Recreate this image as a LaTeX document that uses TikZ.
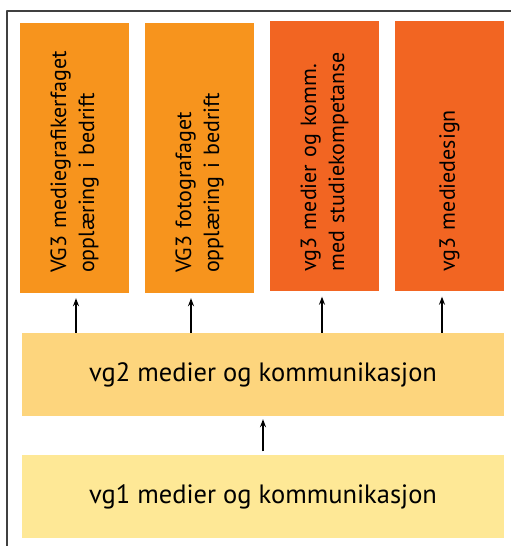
\documentclass[tikz,border=0pt]{standalone}
\usepackage{fontspec}
\setmainfont{PT Sans}
\usetikzlibrary{arrows.meta}
\definecolor{lysorange}{RGB}{247,148,29}
\definecolor{mørkorange}{RGB}{242,101,34}
\definecolor{vgto}{RGB}{253,213,125}
\definecolor{vgen}{RGB}{254,232,150}
\tikzset{
  vgtre/.style={rotate=90,minimum width=270pt,minimum height=109pt,text width=230pt,align=left,inner sep=0pt,font=\fontsize{22}{28}\selectfont},
  vgboks/.style={minimum width=482pt,minimum height=83pt,inner sep=0pt,font=\fontsize{26.5}{30}\selectfont},
  pil/.style={-{Stealth[length=8pt,width=6pt]},line width=1.3pt}
}
\begin{document}
\begin{tikzpicture}[x=1pt,y=1pt,line join=round]
		\useasboundingbox (0,0) rectangle (511,546);
		\draw[line width=1.6pt,black!75] (7,0)--(7,535)--(511,535);
		\node[vgtre,fill=lysorange] (mgf) at (74.5,388) {VG3 mediegrafikerfaget\\opplæring i bedrift};
		\node[vgtre,fill=lysorange] (foto) at (199.5,388) {VG3 fotografaget\\opplæring i bedrift};
		\node[vgtre,fill=mørkorange] (stud) at (324.5,389.5) {vg3 medier og komm.\\med studiekompetanse};
		\node[vgtre,fill=mørkorange] (design) at (449.5,389.5) {vg3 mediedesign};
		\node[vgboks,fill=vgto] (vg2) at (263,171.5) {vg2 medier og kommunikasjon};
		\node[vgboks,fill=vgen] (vg1) at (263,49) {vg1 medier og kommunikasjon};
		\draw[pil,shorten >=5pt] ([xshift=1.5pt]vg2.north -| mgf.west)--([xshift=1.5pt]mgf.west);
		\draw[pil,shorten >=5pt] ([xshift=-8.5pt]vg2.north -| foto.west)--([xshift=-8.5pt]foto.west);
		\draw[pil,shorten >=5pt] ([xshift=-2.5pt]vg2.north -| stud.west)--([xshift=-2.5pt]stud.west);
		\draw[pil,shorten >=5pt] ([xshift=-7.5pt]vg2.north -| design.west)--([xshift=-7.5pt]design.west);
		\draw[pil,shorten <=4pt,shorten >=3pt] (vg1)--(vg2);
\end{tikzpicture}
\end{document}
